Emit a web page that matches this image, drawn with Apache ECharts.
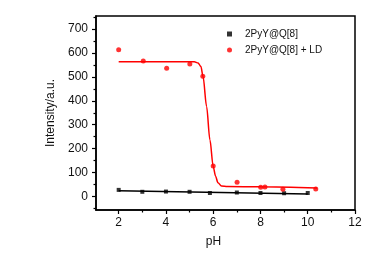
<!DOCTYPE html>
<html>
<head>
<meta charset="utf-8">
<script src="https://cdn.jsdelivr.net/npm/echarts@6/dist/echarts.min.js"></script>
<style>
  html, body { margin: 0; padding: 0; background: #fff; }
  #chart { width: 388px; height: 260px; }
</style>
</head>
<body>
<div id="chart"></div>
<script>
// measured points, black = 2PyY@Q[8], red = 2PyY@Q[8] + LD
var phBlack = [2, 3, 4, 5, 5.86, 7, 8, 9, 10];
var intBlack = [28, 20, 21, 20, 15, 17, 15, 14, 15];
var phRed = [2, 3.04, 4.03, 5.01, 5.56, 6.0, 7.01, 8.01, 8.19, 8.95, 10.34];
var intRed = [613, 566, 536, 554, 502, 128, 60, 39, 40, 31, 32];

// fitted curves
var fitBlackX = [2, 10];
var fitBlackY = [24, 11];
var fitRedX = [2, 5.2, 5.36, 5.48, 5.57, 5.72, 5.86, 6.0, 6.1, 6.2, 6.35, 6.6, 8, 10.4];
var fitRedY = [563, 563, 558, 543, 501, 376, 237, 125, 85, 58, 44, 42, 41, 36];

var xTicks = [2, 4, 6, 8, 10, 12];
var xMinor = [3, 5, 7, 9, 11];
var yTicks = [0, 100, 200, 300, 400, 500, 600, 700];
var yMinor = [-50, 50, 150, 250, 350, 450, 550, 650, 750];

var legendNames = ['2PyY@Q[8]', '2PyY@Q[8] + LD'];

function pairs(xs, ys) {
  return xs.map(function (x, i) { return [x, ys[i]]; });
}

var chart = echarts.init(document.getElementById('chart'));
var font = 'Liberation Sans, Arial, sans-serif';
var xMin = 1.04, xMax = 12, yMin = -56, yMax = 754;

chart.setOption({
  animation: false,
  backgroundColor: '#fff',
  grid: {left: 96, right: 33, top: 16, bottom: 50, show: true, borderColor: '#000', borderWidth: 1.5},
  legend: {
    orient: 'vertical', left: 222, top: 24, itemGap: 6,
    itemWidth: 5, itemHeight: 5,
    textStyle: {fontFamily: font, fontSize: 10, color: '#111', padding: [0, 0, 0, 8]},
    data: [{name: legendNames[0], icon: 'rect'}, {name: legendNames[1], icon: 'circle'}]
  },
  xAxis: [
    {
      type: 'value', min: xMin, max: xMax, position: 'bottom',
      name: 'pH', nameLocation: 'middle', nameGap: 26,
      nameTextStyle: {fontFamily: font, fontSize: 12, color: '#111', padding: [0, 24, 0, 0]},
      axisLine: {onZero: false, lineStyle: {color: '#000', width: 1.5}},
      axisTick: {customValues: xTicks, length: 4, lineStyle: {color: '#000', width: 1.2}},
      axisLabel: {customValues: xTicks, margin: 7, fontFamily: font, fontSize: 12, color: '#111'},
      splitLine: {show: false}
    },
    {
      type: 'value', min: xMin, max: xMax, position: 'bottom',
      axisLine: {show: false, onZero: false},
      axisTick: {customValues: xMinor, length: 2.5, lineStyle: {color: '#000', width: 1.2}},
      axisLabel: {show: false},
      splitLine: {show: false}
    }
  ],
  yAxis: [
    {
      type: 'value', min: yMin, max: yMax, position: 'left',
      name: 'Intensity/a.u.', nameLocation: 'middle', nameGap: 39,
      nameTextStyle: {fontFamily: font, fontSize: 12, color: '#111'},
      axisLine: {show: true, onZero: false, lineStyle: {color: '#000', width: 1.5}},
      axisTick: {show: true, customValues: yTicks, length: 4, lineStyle: {color: '#000', width: 1.2}},
      axisLabel: {customValues: yTicks, margin: 8, fontFamily: font, fontSize: 12, color: '#111'},
      splitLine: {show: false}
    },
    {
      type: 'value', min: yMin, max: yMax, position: 'left',
      axisLine: {show: false, onZero: false},
      axisTick: {show: true, customValues: yMinor, length: 2.5, lineStyle: {color: '#000', width: 1.2}},
      axisLabel: {show: false},
      splitLine: {show: false}
    }
  ],
  series: [
    {
      name: 'fitBlack', type: 'line', data: pairs(fitBlackX, fitBlackY),
      showSymbol: false, lineStyle: {color: '#000', width: 1.5}, z: 2
    },
    {
      name: 'fitRed', type: 'line', data: pairs(fitRedX, fitRedY),
      showSymbol: false, smooth: 0.3, smoothMonotone: 'x',
      lineStyle: {color: '#ff0000', width: 1.5}, z: 2
    },
    {
      name: legendNames[0], type: 'scatter', data: pairs(phBlack, intBlack),
      symbol: 'rect', symbolSize: 4, itemStyle: {color: '#000'}, z: 3
    },
    {
      name: legendNames[1], type: 'scatter', data: pairs(phRed, intRed),
      symbol: 'circle', symbolSize: 5, itemStyle: {color: '#ff0000'}, z: 3
    }
  ]
});
</script>
</body>
</html>
